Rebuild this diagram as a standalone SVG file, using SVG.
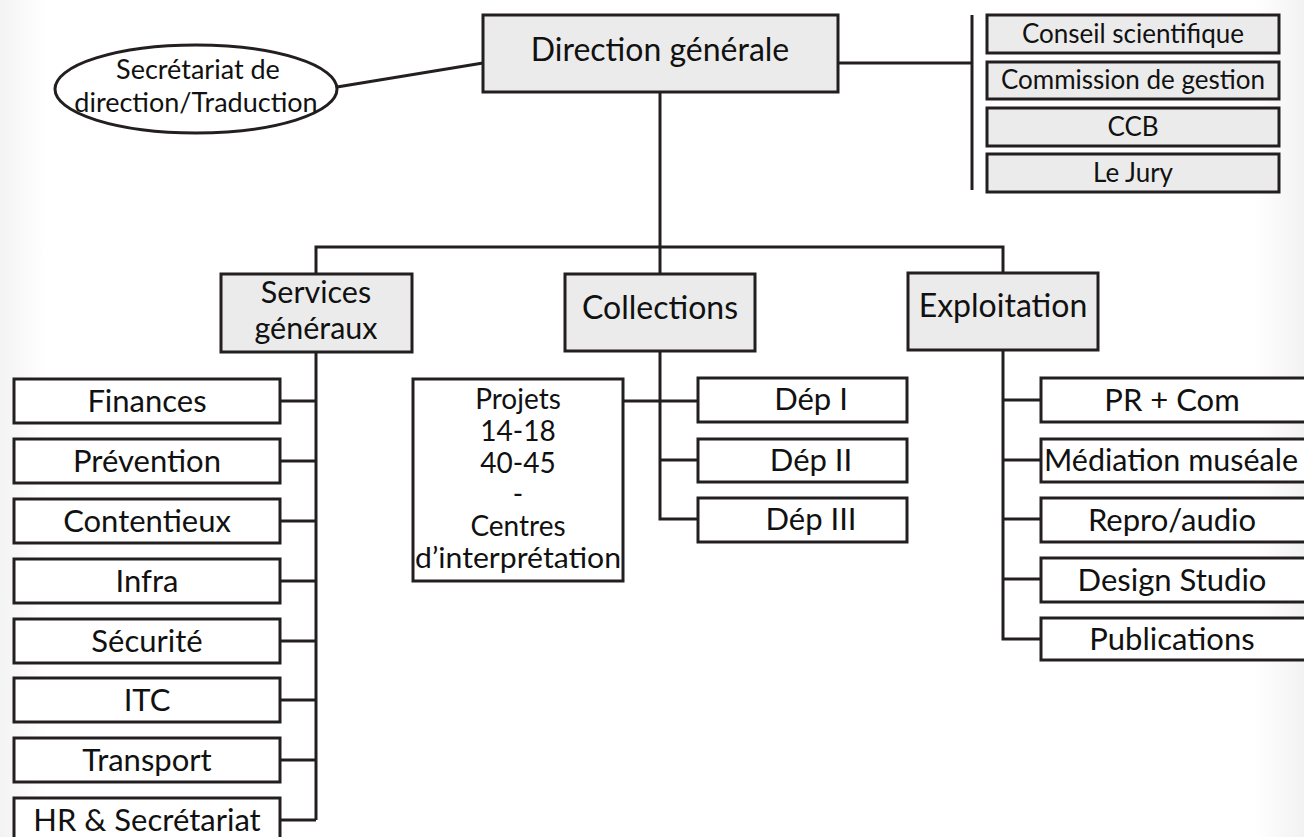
<svg xmlns="http://www.w3.org/2000/svg" width="1304" height="837" viewBox="0 0 1304 837">
<defs>
<linearGradient id="gl" x1="0" y1="0" x2="1" y2="0"><stop offset="0" stop-color="#f3f3f3"/><stop offset="1" stop-color="#ffffff"/></linearGradient>
<linearGradient id="gr" x1="0" y1="0" x2="1" y2="0"><stop offset="0" stop-color="#ffffff"/><stop offset="1" stop-color="#f2f2f2"/></linearGradient>
</defs>
<style>
.box{fill:#ebebeb;stroke:#231f20;stroke-width:3}
.wbox{fill:#ffffff;stroke:#231f20;stroke-width:3}
.ln{fill:none;stroke:#231f20;stroke-width:3}
text{font-family:Lato,"Open Sans",sans-serif;fill:#111;text-anchor:middle}
.big{font-size:32px}
.sv{font-size:30.5px}
.it{font-size:31px}
.sm{font-size:26px}
.el{font-size:27px}
.pj{font-size:28px}
</style>
<rect width="1304" height="837" fill="#ffffff"/>
<rect x="0" y="0" width="45" height="837" fill="url(#gl)"/>
<rect x="1255" y="0" width="49" height="837" fill="url(#gr)"/>
<g id="connectors">
<line class="ln" x1="337" y1="87" x2="483" y2="63"/>
<line class="ln" x1="838" y1="63" x2="972" y2="63"/>
<line class="ln" x1="972" y1="15" x2="972" y2="190"/>
<line class="ln" x1="660" y1="92" x2="660" y2="247"/>
<polyline class="ln" points="316,274 316,247 1003,247 1003,273"/>
<line class="ln" x1="660" y1="247" x2="660" y2="274"/>
<line class="ln" x1="316" y1="352" x2="316" y2="820"/>
<line class="ln" x1="280" y1="401" x2="316" y2="401"/>
<line class="ln" x1="280" y1="461" x2="316" y2="461"/>
<line class="ln" x1="280" y1="521" x2="316" y2="521"/>
<line class="ln" x1="280" y1="581" x2="316" y2="581"/>
<line class="ln" x1="280" y1="641" x2="316" y2="641"/>
<line class="ln" x1="280" y1="700" x2="316" y2="700"/>
<line class="ln" x1="280" y1="760" x2="316" y2="760"/>
<polyline class="ln" points="280,820 316,820"/>
<polyline class="ln" points="660,351 660,519 698,519"/>
<line class="ln" x1="623" y1="401" x2="698" y2="401"/>
<line class="ln" x1="660" y1="460" x2="698" y2="460"/>
<polyline class="ln" points="1003,350 1003,639 1041,639"/>
<line class="ln" x1="1003" y1="400" x2="1041" y2="400"/>
<line class="ln" x1="1003" y1="460" x2="1041" y2="460"/>
<line class="ln" x1="1003" y1="519" x2="1041" y2="519"/>
<line class="ln" x1="1003" y1="579" x2="1041" y2="579"/>
</g>
<g id="secretariat">
<ellipse class="wbox" cx="196" cy="89" rx="141" ry="44"/>
<text class="el" x="198" y="79">Secrétariat  de</text>
<text class="el" x="196" y="112">direction/Traduction</text>
</g>
<g id="direction">
<rect class="box" x="483" y="15" width="355" height="77"/>
<text class="big" x="660" y="61">Direction générale</text>
</g>
<g id="conseil">
<rect class="box" x="987" y="15" width="292" height="38"/>
<text class="sm" x="1133" y="43">Conseil scientifique</text>
</g>
<g id="commission">
<rect class="box" x="987" y="62" width="292" height="37"/>
<text class="sm" x="1133" y="89">Commission de gestion</text>
</g>
<g id="ccb">
<rect class="box" x="987" y="108" width="292" height="38"/>
<text class="sm" x="1133" y="136">CCB</text>
</g>
<g id="jury">
<rect class="box" x="987" y="154" width="292" height="38"/>
<text class="sm" x="1133" y="182">Le Jury</text>
</g>
<g id="services">
<rect class="box" x="221" y="274" width="191" height="78"/>
<text class="sv" x="316" y="303">Services</text>
<text class="sv" x="316" y="339">généraux</text>
</g>
<g id="collections">
<rect class="box" x="565" y="274" width="190" height="77"/>
<text class="big" x="660" y="319">Collections</text>
</g>
<g id="exploitation">
<rect class="box" x="908" y="273" width="190" height="77"/>
<text class="big" x="1003" y="317">Exploitation</text>
</g>
<g id="finances"><rect class="wbox" x="14" y="379" width="266" height="44"/><text class="it" x="147" y="412">Finances</text></g>
<g id="prevention"><rect class="wbox" x="14" y="439" width="266" height="44"/><text class="it" x="147" y="472">Prévention</text></g>
<g id="contentieux"><rect class="wbox" x="14" y="499" width="266" height="44"/><text class="it" x="147" y="532">Contentieux</text></g>
<g id="infra"><rect class="wbox" x="14" y="559" width="266" height="44"/><text class="it" x="147" y="592">Infra</text></g>
<g id="securite"><rect class="wbox" x="14" y="619" width="266" height="44"/><text class="it" x="147" y="652">Sécurité</text></g>
<g id="itc"><rect class="wbox" x="14" y="678" width="266" height="44"/><text class="it" x="147" y="711">ITC</text></g>
<g id="transport"><rect class="wbox" x="14" y="738" width="266" height="44"/><text class="it" x="147" y="771">Transport</text></g>
<g id="hr"><rect class="wbox" x="14" y="798" width="266" height="44"/><text class="it" x="147" y="831">HR &amp; Secrétariat</text></g>
<g id="projets">
<rect class="wbox" x="413" y="379" width="210" height="202"/>
<text class="pj" x="518" y="409">Projets</text>
<text class="pj" x="518" y="441">14-18</text>
<text class="pj" x="518" y="473">40-45</text>
<text class="pj" x="518" y="504">-</text>
<text class="pj" x="518" y="536">Centres</text>
<text class="pj" x="518" y="568" textLength="206" lengthAdjust="spacingAndGlyphs">d’interprétation</text>
</g>
<g id="dep1"><rect class="wbox" x="698" y="378" width="209" height="44"/><text class="it" x="811" y="410">Dép I</text></g>
<g id="dep2"><rect class="wbox" x="698" y="439" width="209" height="43"/><text class="it" x="811" y="471">Dép II</text></g>
<g id="dep3"><rect class="wbox" x="698" y="498" width="209" height="44"/><text class="it" x="811" y="530">Dép III</text></g>
<g id="prcom"><rect class="wbox" x="1041" y="378" width="270" height="44"/><text class="it" x="1172" y="411">PR + Com</text></g>
<g id="mediation"><rect class="wbox" x="1041" y="439" width="270" height="43"/><text class="it" x="1171" y="471" textLength="254" lengthAdjust="spacingAndGlyphs">Médiation muséale</text></g>
<g id="repro"><rect class="wbox" x="1041" y="498" width="270" height="44"/><text class="it" x="1172" y="531">Repro/audio</text></g>
<g id="design"><rect class="wbox" x="1041" y="558" width="270" height="44"/><text class="it" x="1172" y="591">Design Studio</text></g>
<g id="publications"><rect class="wbox" x="1041" y="618" width="270" height="42"/><text class="it" x="1172" y="650">Publications</text></g>
</svg>
